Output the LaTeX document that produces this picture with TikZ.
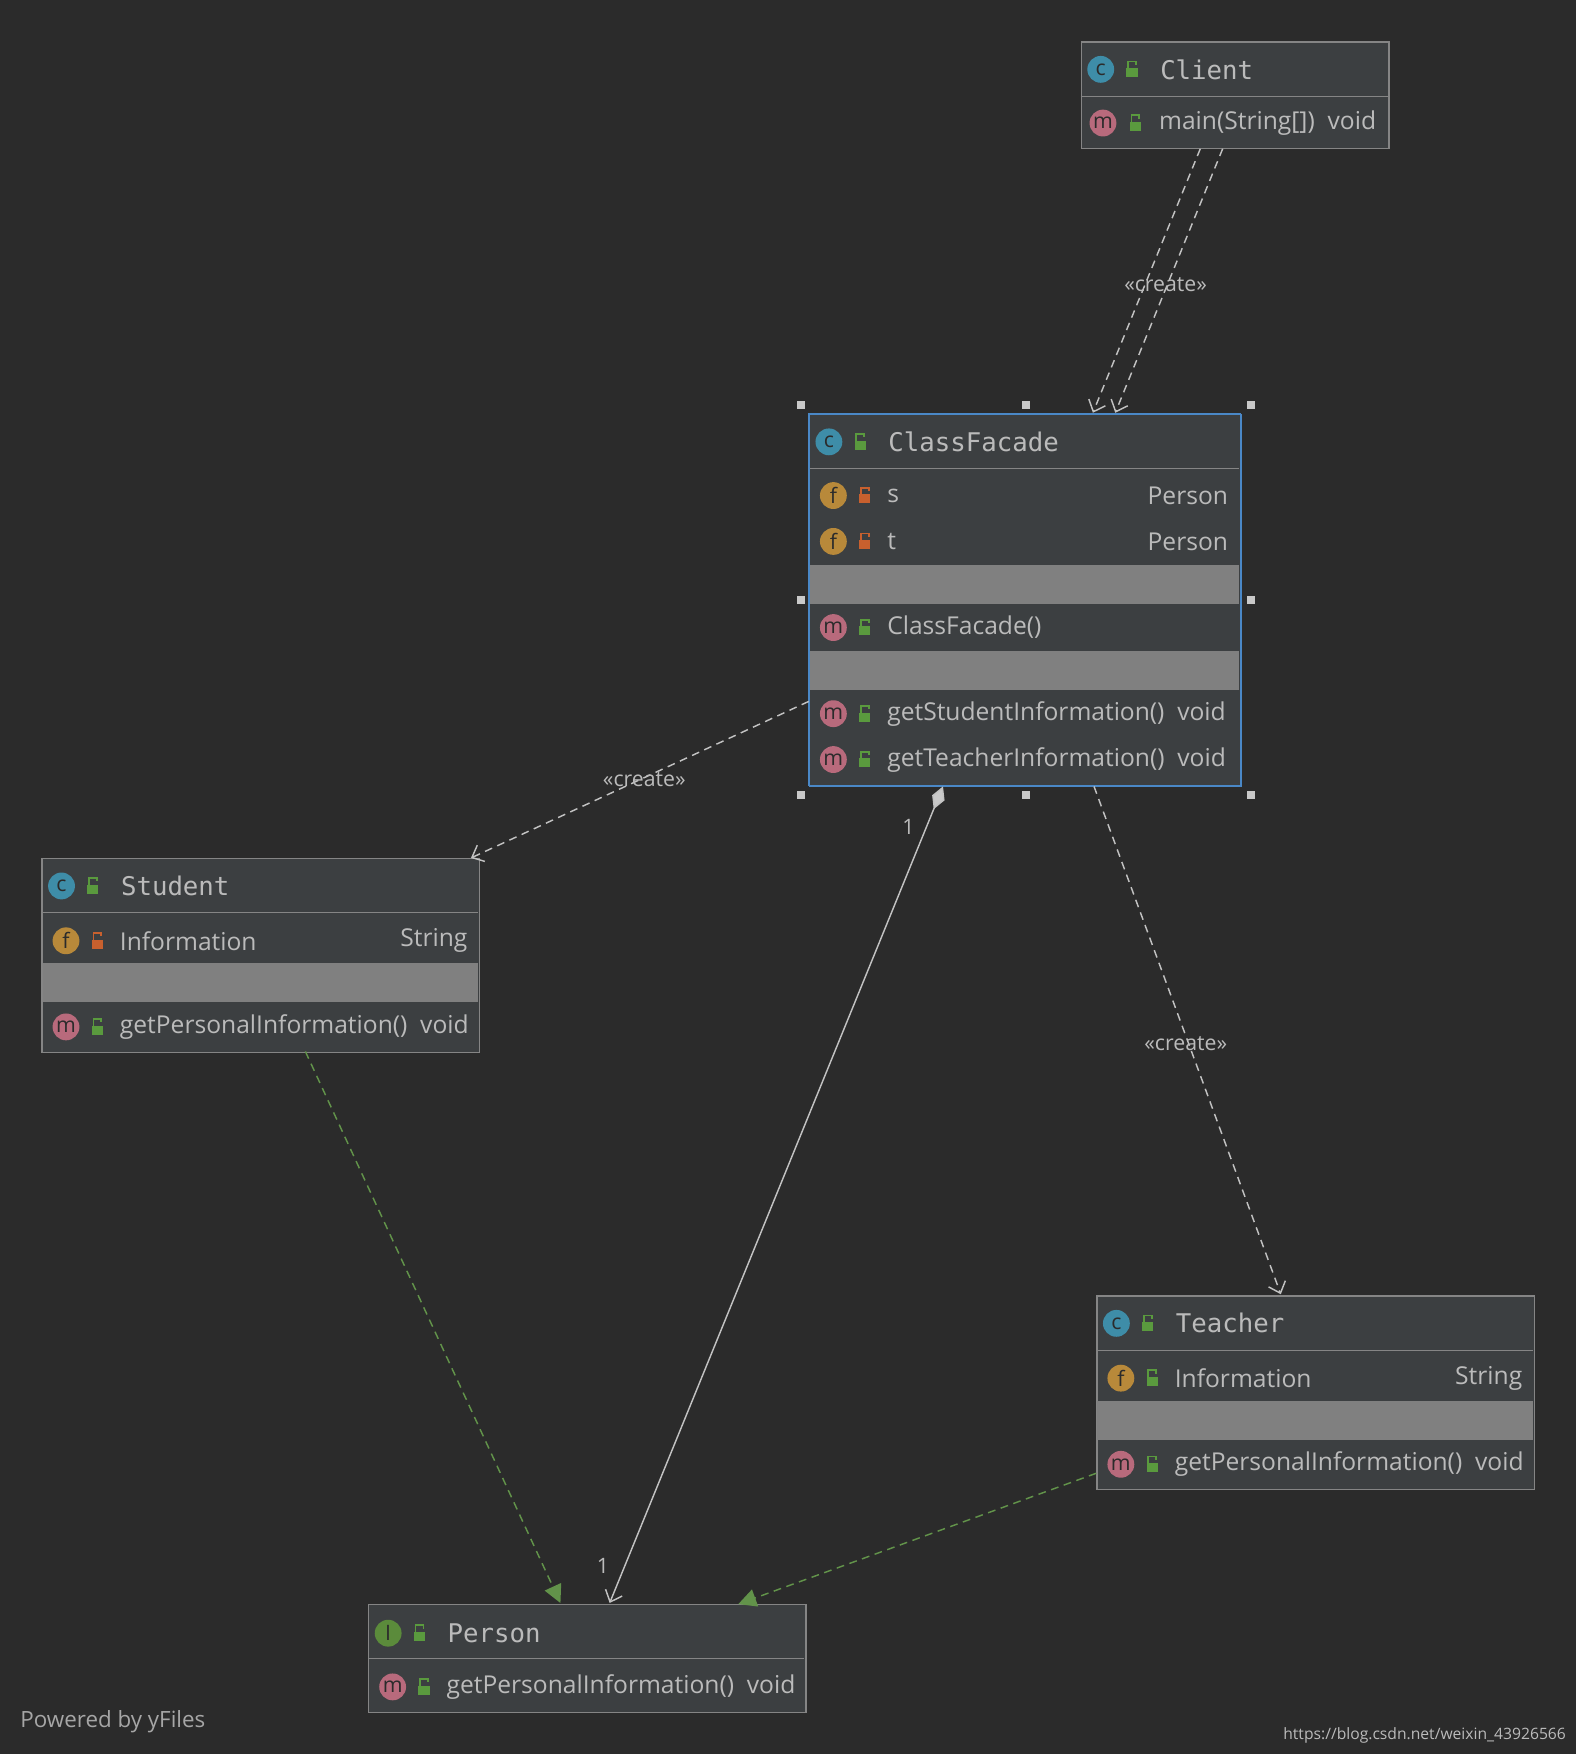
\documentclass[tikz,border=0pt]{standalone}
\usepackage{fontspec}
\setmainfont{Open Sans}
\newfontfamily\hdr{DejaVu Sans Mono}
\usetikzlibrary{arrows.meta,shapes.geometric}
\definecolor{bg}{HTML}{2B2B2B}
\definecolor{boxf}{HTML}{3C3F41}
\definecolor{band}{HTML}{808080}
\definecolor{bord}{HTML}{858585}
\definecolor{txt}{HTML}{BBBBBB}
\definecolor{sel}{HTML}{4A88C7}
\definecolor{ic}{HTML}{3E8DA8}
\definecolor{im}{HTML}{B86A7C}
\definecolor{iff}{HTML}{B8893A}
\definecolor{ii}{HTML}{5B8B3B}
\definecolor{lk}{HTML}{5A9A3E}
\definecolor{lr}{HTML}{C8602E}
\definecolor{gr}{HTML}{62934A}
\tikzset{
 every node/.style={text=txt,inner sep=0pt},
 box/.style={draw=bord,line width=1.2pt,fill=boxf},
 ico/.style={circle,minimum size=24pt,text=bg,font=\fontsize{19}{19}\selectfont},
 t/.style={font=\fontsize{22}{22}\selectfont,anchor=west},
 th/.style={font=\hdr\fontsize{23}{23}\selectfont,anchor=west},
 tr/.style={font=\fontsize{22}{22}\selectfont,anchor=east},
 dep/.style={draw=txt!90,line width=1.3pt,dash pattern=on 7pt off 5pt,-{Straight Barb[length=9pt,width=16pt]}},
 impl/.style={draw=gr,line width=1.3pt,dash pattern=on 7pt off 5pt},
 lab/.style={font=\fontsize{19}{19}\selectfont,text=txt},
 hd/.style={fill=txt!80,minimum size=7pt}
}
\newcommand{\icon}[4]{\node[ico,fill=#1] at (#3,#4) {#2};}
\newcommand{\lock}[3]{\fill[#1] (#2-5,#3-1) rectangle (#2+5,#3+7); \draw[#1,line width=1.6pt] (#2-3.5,#3-1) -- (#2-3.5,#3-7) -- (#2+3.5,#3-7) -- (#2+3.5,#3-4);}
\begin{document}
\begin{tikzpicture}[x=1pt,y=-1pt]
\fill[bg] (0,0) rectangle (1409,1568);
\useasboundingbox (0,0) rectangle (1409,1568);
% Client
\node[box,minimum width=275pt,minimum height=95pt,anchor=north west] (client) at (966,37) {};
\draw[bord,line width=1pt] (966,86) -- (1241,86);
\icon{ic}{c}{984}{62}\lock{lk}{1012}{62}
\node[th] at (1037,62) {Client};
\icon{im}{m}{986}{110}\lock{lk}{1015}{110}
\node[t] at (1036,110) {main(String[])\ \ void};
% ClassFacade
\node[box,draw=sel,minimum width=386pt,minimum height=332pt,anchor=north west] (facade) at (723,370) {};
\fill[band] (724,505) rectangle (1108,540);
\fill[band] (724,582) rectangle (1108,617);
\draw[bord,line width=1pt] (724,419) -- (1108,419);
\draw[sel,line width=1.2pt] (723,370) rectangle (1109,702);
\icon{ic}{c}{741}{395}\lock{lk}{769}{395}
\node[th] at (794,395) {ClassFacade};
\icon{iff}{f}{745}{443}\lock{lr}{773}{443}\node[t] at (793,443) {s};\node[tr] at (1098,443) {Person};
\icon{iff}{f}{745}{484}\lock{lr}{773}{484}\node[t] at (793,484) {t};\node[tr] at (1098,484) {Person};
\icon{im}{m}{745}{561}\lock{lk}{773}{561}\node[t] at (793,561) {ClassFacade()};
\icon{im}{m}{745}{638}\lock{lk}{773}{638}\node[t] at (793,638) {getStudentInformation()\ \ void};
\icon{im}{m}{745}{679}\lock{lk}{773}{679}\node[t] at (793,679) {getTeacherInformation()\ \ void};
\foreach \p in {(716,362),(917,362),(1118,362),(716,536),(1118,536),(716,711),(917,711),(1118,711)} \node[hd] at \p {};
% Student
\node[box,minimum width=391pt,minimum height=173pt,anchor=north west] (student) at (37,767) {};
\fill[band] (38,861) rectangle (427,896);
\draw[bord,line width=1pt] (38,816) -- (427,816);
\icon{ic}{c}{55}{792}\lock{lk}{83}{792}\node[th] at (108,792) {Student};
\icon{iff}{f}{59}{841}\lock{lr}{87}{841}\node[t] at (107,841) {Information};\node[tr] at (418,841) {String};
\icon{im}{m}{59}{918}\lock{lk}{87}{918}\node[t] at (107,918) {getPersonalInformation()\ \ void};
% Teacher
\node[box,minimum width=391pt,minimum height=173pt,anchor=north west] (teacher) at (980,1158) {};
\fill[band] (981,1252) rectangle (1370,1287);
\draw[bord,line width=1pt] (981,1207) -- (1370,1207);
\icon{ic}{c}{998}{1183}\lock{lk}{1026}{1183}\node[th] at (1051,1183) {Teacher};
\icon{iff}{f}{1002}{1232}\lock{lk}{1030}{1232}\node[t] at (1050,1232) {Information};\node[tr] at (1361,1232) {String};
\icon{im}{m}{1002}{1309}\lock{lk}{1030}{1309}\node[t] at (1050,1309) {getPersonalInformation()\ \ void};
% Person
\node[box,minimum width=391pt,minimum height=96pt,anchor=north west] (person) at (329,1434) {};
\draw[bord,line width=1pt] (330,1483) -- (719,1483);
\icon{ii}{I}{347}{1460}\lock{lk}{375}{1460}\node[th] at (400,1460) {Person};
\icon{im}{m}{351}{1508}\lock{lk}{379}{1508}\node[t] at (399,1508) {getPersonalInformation()\ \ void};
% anchors
\coordinate (c1) at (1073,133); \coordinate (f1) at (977,369);
\coordinate (c2) at (1093,133); \coordinate (f2) at (997,369);
\coordinate (fs) at (723,627); \coordinate (sf) at (421,767);
\coordinate (ft) at (978,703); \coordinate (tf) at (1145,1157);
\coordinate (fp) at (843,703); \coordinate (pf) at (545,1433);
\coordinate (sp) at (273,940); \coordinate (ps) at (501,1433);
\coordinate (tp) at (980,1317); \coordinate (pt) at (660,1434);
\draw[dep] (c1) -- (f1);
\draw[dep] (c2) -- (f2);
\node[lab] at (1042,254) {«create»};
\draw[dep] (fs) -- (sf);
\node[lab] at (576,697) {«create»};
\draw[dep] (ft) -- (tf);
\node[lab] at (1060,933) {«create»};
\draw[txt!90,line width=1.3pt,{Diamond[length=22pt,width=12pt,fill=txt!80]}-{Straight Barb[length=9pt,width=16pt]}] (fp) -- (pf);
\node[lab] at (812,739) {1};
\node[lab] at (539,1400) {1};
\draw[impl,-{Triangle[length=16pt,width=16pt,fill=gr]}] (sp) -- (ps);
\draw[impl,-{Triangle[length=16pt,width=16pt,fill=gr]}] (tp) -- (pt);
\node[font=\fontsize{20}{20}\selectfont,text=gray!70,anchor=west] at (18,1539) {Powered by yFiles};
\node[font=\fontsize{14}{14}\selectfont,text=txt,anchor=east] at (1400,1551) {https://blog.csdn.net/weixin\_43926566};
\end{tikzpicture}
\end{document}
